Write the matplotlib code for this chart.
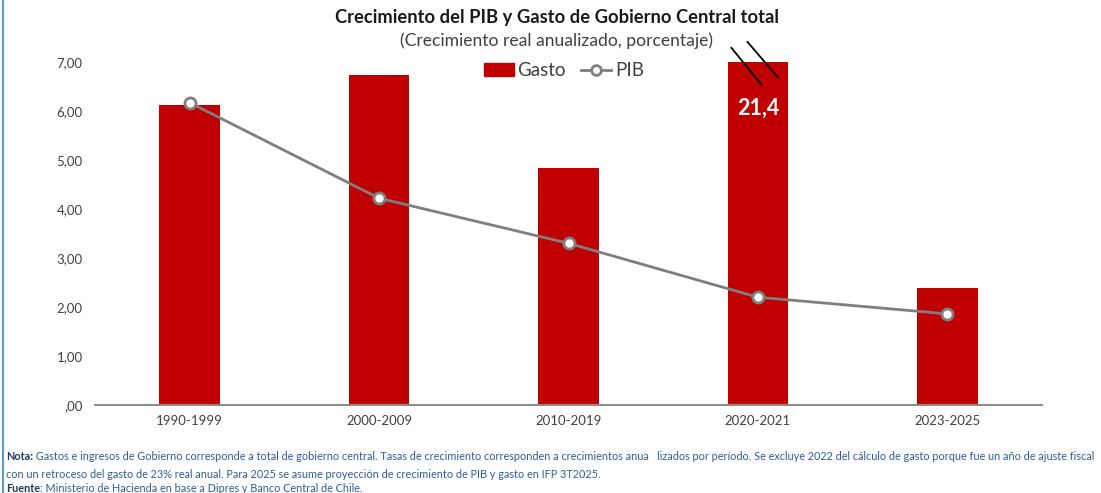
import numpy as np
import matplotlib.pyplot as plt
from matplotlib.lines import Line2D
from matplotlib.patches import Patch

plt.rcParams['font.family'] = ['Lato', 'DejaVu Sans']

# data
periodos = ['1990-1999', '2000-2009', '2010-2019', '2020-2021', '2023-2025']
gasto = [6.12, 6.73, 4.84, 21.4, 2.39]
pib = [6.17, 4.22, 3.30, 2.20, 1.86]
yticks = [0, 1, 2, 3, 4, 5, 6, 7]
ytick_labels = [',00', '1,00', '2,00', '3,00', '4,00', '5,00', '6,00', '7,00']
ymax = 7.0

rojo = '#C00000'
gris = '#7F7F7F'

fig = plt.figure(figsize=(11.01, 4.93), dpi=100)
ax = fig.add_axes([95/1101, 88/493, (1042-95)/1101, (405-62)/493])

x = np.arange(len(periodos))
ax.bar(x, gasto, width=0.32, color=rojo, zorder=2)
ax.plot(x, pib, color=gris, lw=2, marker='o', ms=8, mfc='white', mec=gris, mew=2, zorder=3)

ax.set_xlim(-0.5, len(periodos) - 0.5)
ax.set_ylim(0, ymax)
ax.set_yticks(yticks)
ax.set_yticklabels(ytick_labels)
ax.set_xticks(x)
ax.set_xticklabels(periodos)
ax.tick_params(axis='both', length=0, labelsize=9.5, colors='#404040')
ax.tick_params(axis='y', pad=9)
ax.tick_params(axis='x', pad=7)
for s in ['top', 'right', 'left']:
    ax.spines[s].set_visible(False)
ax.spines['bottom'].set_color('#8C8C8C')
ax.spines['bottom'].set_linewidth(1.5)

# bar cut above the axis: value label and break marks
i_big = int(np.argmax(gasto))
ax.text(i_big, ymax - 0.95, f'{gasto[i_big]:.1f}'.replace('.', ','), color='white',
        fontsize=15.5, fontweight='bold', ha='center', va='center', zorder=4)
for dx in (0.0, 0.085):
    ax.plot([i_big - 0.14 + dx, i_big + 0.02 + dx],
            [ymax + 0.29 + 0.12 * dx / 0.085, ymax - 0.47 + 0.16 * dx / 0.085],
            color='black', lw=1.3, clip_on=False, zorder=5)

handles = [Patch(facecolor=rojo, edgecolor=rojo),
           Line2D([0], [0], color=gris, lw=2, marker='o', ms=7, mfc='white', mec=gris, mew=2)]
ax.legend(handles, ['Gasto', 'PIB'], loc='center', bbox_to_anchor=(0.495, 0.975), ncol=2,
          frameon=False, fontsize=13.5, handlelength=1.6, handletextpad=0.2, columnspacing=0.8,
          labelcolor='#404040')

fig.text(557/1101, 1 - 18/493, 'Crecimiento del PIB y Gasto de Gobierno Central total',
         ha='center', va='center', fontsize=13.2, fontweight='bold', color='#1a1a1a')
fig.text(557/1101, 1 - 41/493, '(Crecimiento real anualizado, porcentaje)',
         ha='center', va='center', fontsize=12.6, color='#404040')

# footnote
azul = '#2E5C9A'
navy = '#1F3864'
fs = 7.85
nota = (' Gastos e ingresos de Gobierno corresponde a total de gobierno central. Tasas de crecimiento '
        'corresponden a crecimientos anua   lizados por período. Se excluye 2022 del cálculo de gasto '
        'porque fue un año de ajuste fiscal')
t1 = fig.text(6/1101, 1 - 457/493, 'Nota:', ha='left', va='center', fontsize=fs,
              fontweight='bold', color=navy)
fig.add_artist(plt.Annotation(nota, xy=(1, 0.5), xycoords=t1, ha='left', va='center',
                              fontsize=fs, color=azul))
fig.text(6/1101, 1 - 474/493,
         'con un retroceso del gasto de 23% real anual. Para 2025 se asume proyección de crecimiento de PIB y gasto en IFP 3T2025.',
         ha='left', va='center', fontsize=fs, color=azul)
t2 = fig.text(6/1101, 1 - 488/493, 'Fuente', ha='left', va='center', fontsize=fs,
              fontweight='bold', color=navy)
fig.add_artist(plt.Annotation(': Ministerio de Hacienda en base a Dipres y Banco Central de Chile.',
                              xy=(1, 0.5), xycoords=t2, ha='left', va='center', fontsize=fs, color=azul))

# left border line
fig.add_artist(Line2D([3/1101, 3/1101], [0, 1], color='#5B9BD5', lw=1.5))

fig.savefig('out.png', dpi=100)
